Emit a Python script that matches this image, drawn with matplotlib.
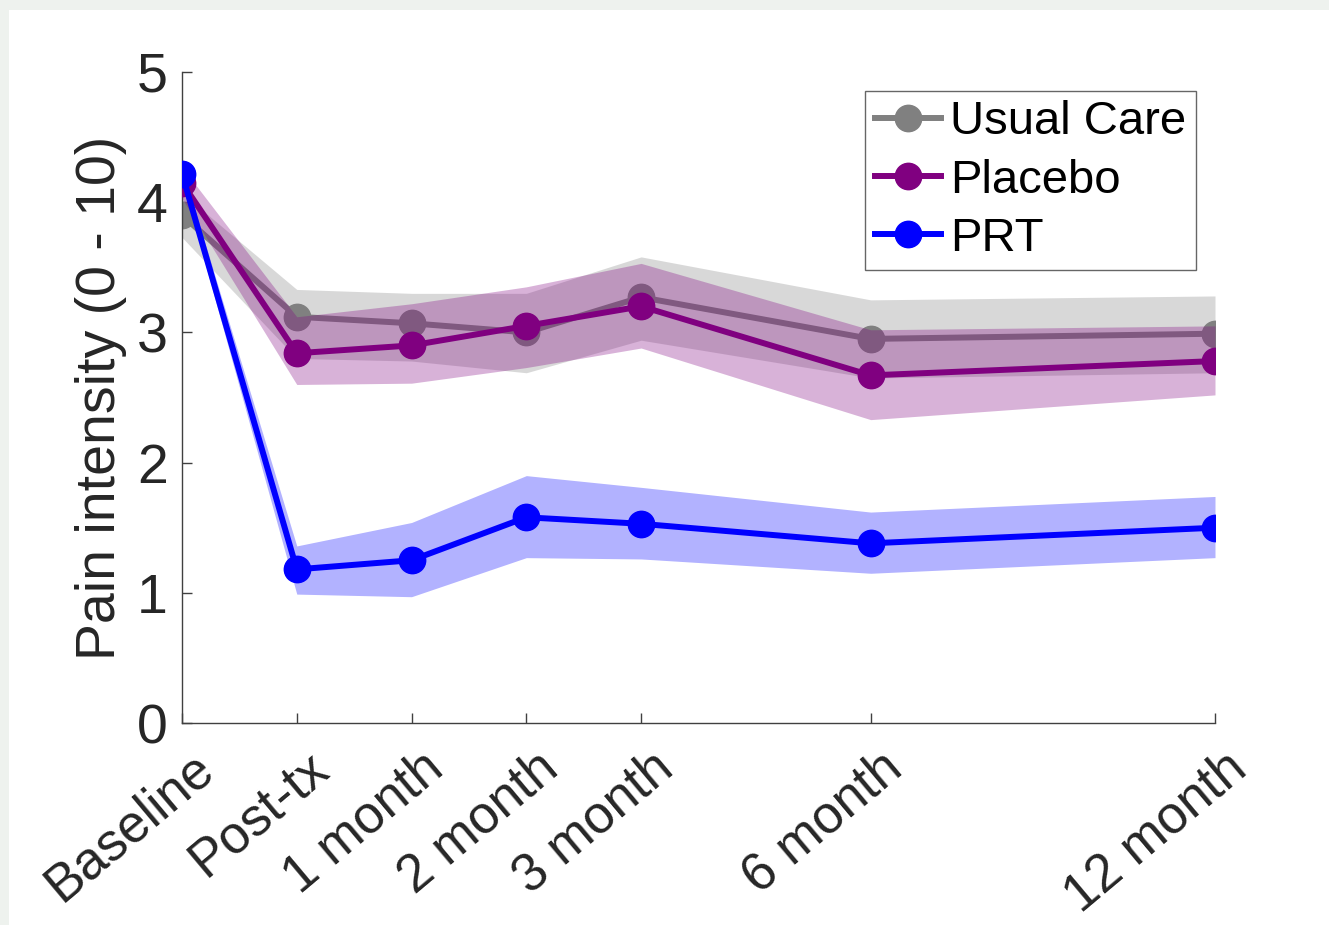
import numpy as np
import matplotlib
matplotlib.use("Agg")
import matplotlib.pyplot as plt
import matplotlib.transforms as mtransforms
from matplotlib.patches import Rectangle

plt.rcParams['font.family'] = ['Liberation Sans', 'DejaVu Sans']

# time points (x positions in months-ish units, as spaced on the axis)
timepoints = ["Baseline", "Post-tx", "1 month", "2 month", "3 month", "6 month", "12 month"]
x_pos = [0, 1, 2, 3, 4, 6, 9]

usual_mean = [3.90, 3.12, 3.07, 3.00, 3.27, 2.95, 2.99]
usual_lo   = [3.73, 2.80, 2.78, 2.69, 2.94, 2.65, 2.69]
usual_hi   = [4.07, 3.33, 3.30, 3.30, 3.58, 3.25, 3.28]

placebo_mean = [4.15, 2.84, 2.90, 3.05, 3.20, 2.67, 2.78]
placebo_lo   = [4.03, 2.60, 2.61, 2.73, 2.88, 2.33, 2.52]
placebo_hi   = [4.27, 3.12, 3.22, 3.35, 3.53, 3.02, 3.05]

prt_mean = [4.22, 1.18, 1.25, 1.58, 1.53, 1.38, 1.50]
prt_lo   = [4.17, 0.99, 0.97, 1.27, 1.26, 1.15, 1.27]
prt_hi   = [4.27, 1.36, 1.54, 1.90, 1.81, 1.62, 1.74]

series = [
    ("Usual Care", usual_mean, usual_lo, usual_hi, (0.5, 0.5, 0.5)),
    ("Placebo", placebo_mean, placebo_lo, placebo_hi, (0.5, 0.0, 0.5)),
    ("PRT", prt_mean, prt_lo, prt_hi, (0.0, 0.0, 1.0)),
]

fig = plt.figure(figsize=(13.29, 9.25), dpi=100)
fig.patch.set_facecolor("white")
# light frame strip on top and left edges
fig.patches.append(Rectangle((0, 0), 9 / 1329, 1, transform=fig.transFigure,
                             facecolor="#eef2ee", edgecolor="none", zorder=0))
fig.patches.append(Rectangle((0, 1 - 10 / 925), 1, 10 / 925, transform=fig.transFigure,
                             facecolor="#eef2ee", edgecolor="none", zorder=0))

ax = fig.add_axes([182 / 1329, (925 - 723) / 925, (1215 - 182) / 1329, (723 - 72) / 925])

z = 1
for name, m, lo, hi, col in series:
    ax.fill_between(x_pos, lo, hi, color=col, alpha=0.3, lw=0, zorder=z)
    ax.plot(x_pos, m, "-o", color=col, lw=4.3, ms=19, label=name, zorder=z + 1)
    z += 2

ax.set_xlim(0, 9)
ax.set_ylim(0, 5)
ax.set_yticks([0, 1, 2, 3, 4, 5])
ax.set_xticks(x_pos)

for s in ["top", "right"]:
    ax.spines[s].set_visible(False)
for s in ["left", "bottom"]:
    ax.spines[s].set_color("#404040")
    ax.spines[s].set_linewidth(1.0)

ax.tick_params(axis="both", direction="in", length=7, width=1, color="#404040",
               labelcolor="#262626")
ax.tick_params(axis="y", pad=10, labelsize=40)
ax.tick_params(axis="x", pad=14)

ax.set_xticklabels(timepoints, rotation=40, ha="right", va="top",
                   rotation_mode="anchor", fontsize=38)
# nudge the rotated labels a bit to the right
shift = mtransforms.ScaledTranslation(9 / 100, 0, fig.dpi_scale_trans)
for lbl in ax.get_xticklabels():
    lbl.set_transform(lbl.get_transform() + shift)

ax.set_ylabel("Pain intensity (0 - 10)", fontsize=40, color="#262626", labelpad=7)

leg = ax.legend(loc="upper right", bbox_to_anchor=(1196 / 1329, 1 - 91 / 925),
                bbox_transform=fig.transFigure, fontsize=34, frameon=True,
                fancybox=False, edgecolor="#404040", labelspacing=0.3,
                handlelength=1.4, handletextpad=0.2, borderpad=0.2,
                borderaxespad=0)
leg.get_frame().set_linewidth(1.0)

fig.savefig("out.png", dpi=100)
